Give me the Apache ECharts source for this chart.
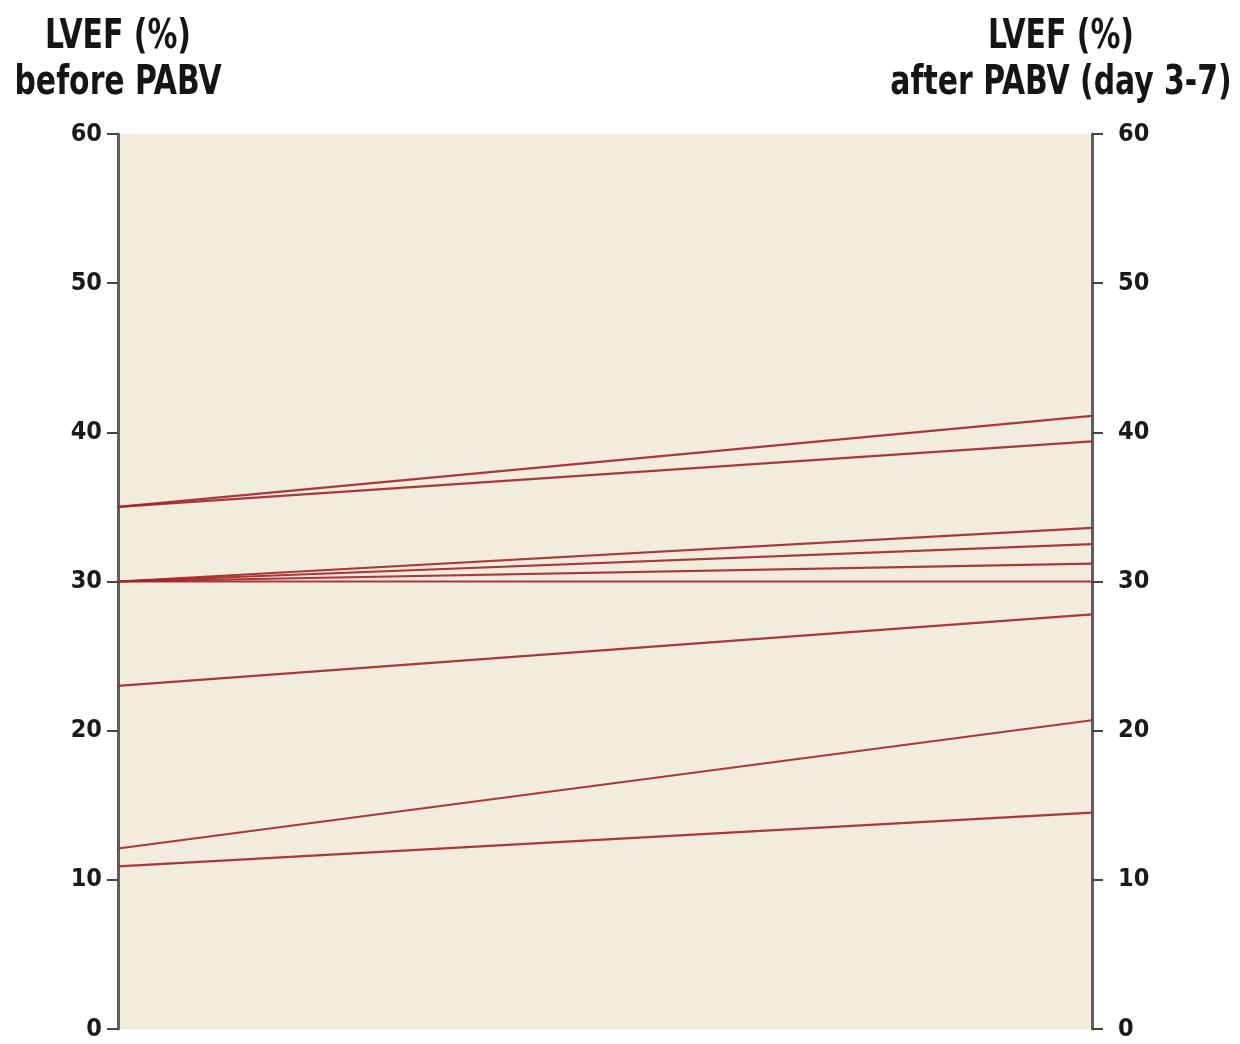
<!DOCTYPE html>
<html>
<head>
<meta charset="utf-8">
<script src="https://cdn.jsdelivr.net/npm/echarts@6/dist/echarts.min.js"></script>
<style>
  html, body { margin: 0; padding: 0; background: #ffffff; }
  #chart { width: 1240px; height: 1044px; }
</style>
</head>
<body>
<div id="chart"></div>
<script>
// LVEF per patient, before and after PABV (day 3-7)
const timepoints = [0, 1];
const lvefBefore = [35, 35, 30, 30, 30, 30, 23, 12.1, 10.9];
const lvefAfter  = [41.1, 39.4, 33.6, 32.5, 31.2, 30.0, 27.8, 20.7, 14.5];
const yTicks = [0, 10, 20, 30, 40, 50, 60];

const headFont = '"DejaVu Sans Condensed", "DejaVu Sans", sans-serif';

const chart = echarts.init(document.getElementById('chart'), null, { renderer: 'canvas' });

const series = lvefBefore.map((b, i) => ({
  type: 'line',
  yAxisIndex: 0,
  symbol: 'none',
  silent: true,
  lineStyle: { color: '#a3242a', width: 2.2, opacity: 0.9 },
  data: [[timepoints[0], b], [timepoints[1], lvefAfter[i]]]
}));

const axisCommon = {
  type: 'value',
  min: yTicks[0],
  max: yTicks[yTicks.length - 1],
  interval: 10,
  splitLine: { show: false },
  axisLine: { show: true, lineStyle: { color: '#5e5e5e', width: 3 } },
  axisTick: { show: true, length: 11, lineStyle: { color: '#444', width: 2 } }
};

// condensed heading text: bold face squeezed horizontally around its centre
function heading(text, cx) {
  return {
    type: 'text', x: cx, y: 15, scaleX: 0.83, scaleY: 1,
    style: {
      text: text, textAlign: 'center',
      font: 'bold 40px ' + headFont, fill: '#151515', lineHeight: 46
    }
  };
}

chart.setOption({
  animation: false,
  backgroundColor: '#ffffff',
  grid: {
    left: 118, right: 148, top: 134, bottom: 15,
    show: true, backgroundColor: '#f1ecdb', borderWidth: 0
  },
  xAxis: { type: 'value', min: 0, max: 1, show: false },
  yAxis: [
    Object.assign({}, axisCommon, {
      position: 'left',
      axisLabel: {
        margin: 16, color: '#1a1a1a', fontSize: 25, fontWeight: 'bold',
        fontFamily: headFont
      }
    }),
    Object.assign({}, axisCommon, {
      position: 'right',
      axisLabel: {
        margin: 26, color: '#1a1a1a', fontSize: 25, fontWeight: 'bold',
        fontFamily: headFont
      }
    })
  ],
  graphic: [
    heading('LVEF (%)\nbefore PABV', 118),
    heading('LVEF (%)\nafter PABV (day 3-7)', 1061)
  ],
  series: series
});
</script>
</body>
</html>
